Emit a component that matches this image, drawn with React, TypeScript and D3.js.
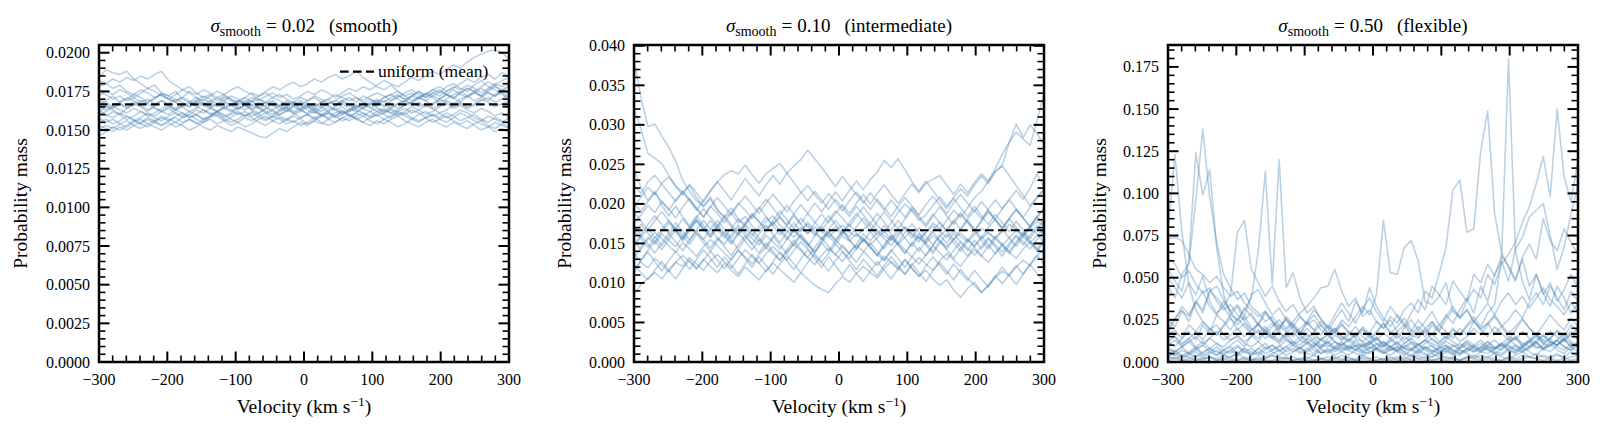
import React from "react";
import * as d3 from "d3";

// Posterior draws of the velocity distribution (probability mass per bin),
// stored in units of 1e-3. Each row is one draw over the 60 velocity bins.
const MASS_UNIT = 1e-3;
const N_BINS = 60;
const V_MIN = -300;
const V_MAX = 300;
const velocityBins = d3.range(N_BINS).map((i) => V_MIN + (i * (V_MAX - V_MIN)) / (N_BINS - 1));

const uniformMean = 1 / 60;

const smoothDraws: number[][] = [
  [18.4,18.9,18.7,18.6,18.8,18.3,18.0,17.7,17.9,17.4,17.2,17.5,17.0,16.8,17.1,16.7,16.9,16.5,16.8,16.6,16.3,16.7,16.9,16.4,16.6,16.8,16.5,16.2,16.6,16.9,16.7,16.4,16.8,17.0,16.6,16.9,17.1,16.8,17.2,17.0,16.7,17.1,17.3,17.0,16.8,17.2,17.5,17.1,17.4,17.6,17.3,17.0,17.4,17.7,17.5,17.2,17.6,17.9,17.4,17.1],
  [17.8,18.0,18.3,18.1,18.4,18.2,18.5,18.3,18.6,18.8,18.2,17.9,17.6,17.8,17.4,17.1,17.3,16.9,17.2,17.0,16.7,16.9,16.6,16.8,16.5,16.3,16.6,16.9,16.7,16.4,16.6,16.3,16.5,16.8,16.6,16.9,16.7,16.4,16.7,17.0,16.8,16.5,16.9,17.2,17.0,16.7,17.1,16.9,16.6,17.0,17.3,17.1,16.8,17.2,17.5,17.2,16.9,17.3,17.6,17.4],
  [16.6,16.9,17.2,16.8,17.0,17.3,17.1,16.8,17.0,17.4,17.2,16.9,17.1,17.5,17.3,17.6,17.4,17.1,17.3,17.0,16.8,17.1,17.4,17.2,17.5,17.8,17.6,17.9,18.1,17.8,18.0,18.3,18.1,18.4,18.6,18.3,18.5,18.8,18.4,18.1,17.8,17.6,17.9,17.5,17.2,17.4,17.1,17.3,17.6,17.4,17.8,18.0,17.7,17.5,17.9,18.2,17.8,17.6,17.3,17.0],
  [16.2,16.5,16.3,16.0,16.4,16.7,16.5,16.2,16.6,16.9,16.7,17.0,16.8,16.5,16.9,17.2,17.0,16.7,17.1,16.9,16.6,16.8,17.1,16.9,17.2,17.4,17.1,17.3,17.0,17.2,17.5,17.3,17.6,17.4,17.1,17.4,17.7,17.5,17.8,17.6,17.9,18.2,18.0,17.8,18.1,18.4,18.2,18.5,18.8,18.6,18.9,19.2,19.0,19.4,19.7,19.9,20.1,20.2,20.0,19.6],
  [14.6,14.9,15.2,15.0,15.3,15.6,15.4,15.7,15.5,15.8,15.6,15.9,16.1,15.8,16.0,15.7,15.9,16.2,16.0,15.7,15.5,15.8,15.6,15.9,16.1,15.8,16.0,16.3,16.1,15.8,16.0,15.7,15.9,16.2,15.9,15.6,15.8,16.1,15.9,16.2,16.4,16.1,16.3,16.0,16.2,16.5,16.3,16.0,16.2,16.5,16.7,16.4,16.6,16.3,16.1,16.4,16.2,15.9,16.1,15.8],
  [15.8,15.5,15.7,15.4,15.6,15.3,15.5,15.8,15.6,15.3,15.5,15.2,15.4,15.7,15.5,15.2,15.0,15.3,15.1,14.9,15.2,15.0,14.8,14.6,14.5,14.8,15.1,14.9,15.2,15.5,15.3,15.6,15.4,15.7,15.5,15.8,16.0,15.7,15.9,15.6,15.4,15.7,15.5,15.2,15.4,15.7,15.5,15.8,16.0,15.7,15.5,15.8,16.1,15.9,15.6,15.4,15.2,15.5,15.3,15.1],
  [16.3,16.0,15.8,16.1,15.9,15.6,15.8,16.1,15.9,16.2,16.4,16.1,15.9,16.2,16.0,15.7,15.9,16.2,16.5,16.3,16.0,16.2,15.9,16.1,16.4,16.2,15.9,15.7,16.0,16.2,16.5,16.3,16.0,15.8,16.1,16.3,16.0,15.8,15.5,15.8,16.0,15.7,15.9,16.2,16.4,16.1,16.3,16.6,16.4,16.1,16.3,16.6,16.8,16.5,16.7,17.0,16.8,16.5,16.7,16.9],
  [18.2,18.0,17.7,17.9,17.5,17.3,17.6,17.4,17.1,17.3,17.0,16.8,17.1,16.9,16.6,16.8,16.5,16.7,16.4,16.2,16.5,16.3,16.6,16.4,16.1,16.3,16.0,16.2,16.5,16.3,16.1,16.4,16.2,16.5,16.3,16.0,16.2,16.5,16.7,16.4,16.6,16.9,16.7,16.4,16.6,16.8,17.1,16.9,17.2,17.0,17.3,17.1,17.4,17.7,17.5,17.8,18.1,17.9,18.2,18.4],
  [17.0,16.8,16.5,16.7,16.4,16.6,16.9,16.7,16.4,16.2,16.5,16.3,16.6,16.8,16.5,16.3,16.0,16.2,16.5,16.7,16.4,16.6,16.3,16.5,16.2,16.0,16.3,16.5,16.2,16.4,16.7,16.5,16.8,16.6,16.3,16.5,16.2,16.4,16.7,16.5,16.2,16.4,16.1,16.3,16.6,16.8,16.5,16.7,16.4,16.6,16.9,16.7,17.0,17.2,16.9,17.1,17.4,17.2,17.5,17.3],
  [15.5,15.7,15.4,15.6,15.9,15.7,15.4,15.2,15.5,15.3,15.6,15.8,15.5,15.7,15.4,15.6,15.9,16.1,15.8,16.0,16.2,15.9,16.1,15.8,15.6,15.9,15.7,15.4,15.6,15.3,15.5,15.8,16.0,15.7,15.9,16.2,16.0,15.7,15.5,15.3,15.6,15.4,15.7,15.9,15.6,15.4,15.2,15.5,15.7,15.4,15.2,15.5,15.3,15.1,15.4,15.6,15.3,15.1,15.4,15.2],
  [17.2,17.5,17.3,17.6,17.4,17.1,17.4,17.7,17.5,17.2,17.0,17.3,17.6,17.4,17.1,16.9,17.2,17.5,17.3,17.6,17.8,17.5,17.3,17.0,16.8,17.1,16.9,16.6,16.8,17.1,16.9,17.2,17.0,16.7,16.9,17.2,17.4,17.1,16.9,17.2,17.4,17.2,16.9,17.1,17.4,17.6,17.3,17.1,17.4,17.2,17.5,17.8,17.6,17.9,17.7,17.4,17.7,18.0,17.8,18.1],
  [15.0,15.3,15.1,15.4,15.2,15.5,15.7,15.4,15.6,15.9,15.7,15.5,15.8,16.0,16.3,16.1,16.4,16.2,15.9,16.1,16.4,16.6,16.3,16.1,16.4,16.7,16.5,16.8,16.6,16.3,16.5,16.2,16.0,16.3,16.5,16.8,16.6,16.3,16.1,15.9,16.2,16.0,15.8,16.1,15.9,15.7,16.0,16.2,15.9,16.1,15.8,16.0,16.3,16.1,15.8,15.6,15.9,15.7,15.5,15.8],
  [16.9,16.6,16.4,16.7,16.5,16.8,16.6,16.3,16.5,16.2,16.0,16.3,16.1,15.8,16.0,16.3,16.1,15.9,15.6,15.8,16.1,15.9,16.2,16.0,15.7,15.9,16.2,16.4,16.1,16.3,16.0,16.2,15.9,16.1,15.8,16.0,16.3,16.6,16.4,16.7,16.5,16.2,16.5,16.7,16.9,16.6,16.8,16.5,16.7,17.0,16.8,16.5,16.7,16.4,16.6,16.9,17.1,16.8,17.0,17.3],
  [16.0,16.2,16.5,16.3,16.1,16.4,16.2,15.9,16.1,16.4,16.6,16.3,16.5,16.2,16.4,16.7,16.5,16.2,16.4,16.6,16.9,16.7,16.4,16.6,16.8,16.6,16.3,16.5,16.8,16.6,16.3,16.1,16.4,16.7,16.9,16.7,16.4,16.2,16.5,16.8,17.0,16.8,17.1,17.3,17.0,17.2,17.5,17.3,17.6,17.8,17.5,17.7,18.0,18.3,18.1,18.4,18.6,18.3,18.7,18.5],
  [15.3,15.1,14.9,15.2,15.0,15.3,15.1,15.4,15.2,15.0,15.3,15.5,15.3,15.0,15.2,15.5,15.7,15.4,15.6,15.3,15.5,15.2,15.4,15.7,15.9,15.6,15.4,15.7,15.5,15.8,16.0,15.8,15.5,15.3,15.5,15.8,15.6,15.9,16.1,15.8,16.0,16.3,16.1,15.9,16.1,15.8,15.6,15.8,15.5,15.7,15.9,15.6,15.4,15.6,15.3,15.0,15.2,14.9,15.1,14.8],
  [16.5,16.3,16.6,16.8,17.1,16.9,16.6,16.8,17.1,17.3,17.0,16.8,16.5,16.7,16.9,16.6,16.4,16.7,16.9,17.2,17.0,16.7,16.9,17.2,17.4,17.1,17.3,17.0,16.8,16.6,16.9,17.1,16.8,17.0,17.3,17.1,16.9,17.1,16.8,16.6,16.8,17.1,17.3,17.5,17.2,16.9,17.1,17.4,17.2,17.5,17.3,17.6,17.3,17.1,17.4,17.2,17.5,17.8,17.6,17.9],
  [16.1,15.9,16.2,16.0,15.7,15.9,16.2,16.0,15.8,15.6,15.9,16.1,15.8,16.0,15.7,15.5,15.8,16.0,15.7,15.5,15.7,16.0,15.8,15.5,15.3,15.6,15.8,15.6,15.9,15.7,15.4,15.6,15.9,16.1,15.9,16.2,15.9,16.1,16.4,16.2,15.9,16.1,16.4,16.2,16.0,16.3,16.1,15.8,16.0,15.8,16.1,15.9,15.6,15.8,16.0,15.7,15.5,15.8,15.6,15.4],
  [17.5,17.3,17.0,17.2,16.9,17.1,16.8,17.0,16.7,16.9,16.6,16.4,16.7,16.5,16.8,17.0,16.8,17.1,16.9,16.6,16.9,17.1,16.8,17.0,16.7,16.9,16.6,16.4,16.6,16.8,16.5,16.7,16.5,16.2,16.4,16.1,16.3,16.6,16.4,16.7,16.9,16.6,16.4,16.7,16.9,17.2,17.0,17.3,17.1,16.8,17.0,17.3,17.5,17.2,17.4,17.7,17.4,17.2,17.5,17.8],
];

const intermediateDraws: number[][] = [
  [38.2,33.5,29.8,30.1,28.6,27.2,25.4,23.0,21.6,20.4,19.8,20.6,19.2,18.4,19.5,18.1,17.4,18.6,17.8,16.9,17.5,18.3,17.2,16.4,17.0,16.2,17.1,16.5,15.8,16.6,17.3,16.4,15.9,16.8,17.5,16.7,16.0,15.4,16.3,17.1,16.2,15.6,16.4,17.2,16.5,15.8,16.6,15.9,15.2,16.1,16.9,16.3,15.7,16.5,17.4,16.8,16.2,17.0,17.8,17.2],
  [32.2,29.5,26.4,25.8,25.1,23.6,22.2,21.5,22.3,20.8,19.6,20.9,19.3,18.2,18.9,17.6,18.4,17.2,16.5,17.8,18.5,17.3,16.6,15.8,16.7,17.4,16.3,15.6,16.4,17.1,15.9,15.3,16.2,15.5,14.8,15.7,16.5,15.6,14.9,15.8,16.6,15.7,15.0,16.0,15.3,14.6,15.5,16.3,15.4,14.7,15.6,16.4,15.5,14.8,15.7,16.6,15.8,15.1,16.0,16.8],
  [13.2,14.5,15.8,14.9,16.2,15.4,14.6,15.9,17.1,16.3,15.5,16.8,15.7,14.9,16.1,17.3,16.4,15.6,14.8,16.0,15.2,14.3,15.5,16.7,15.8,14.9,13.8,15.1,16.3,15.4,14.5,13.7,14.9,16.2,15.3,16.5,15.6,14.7,15.9,17.0,16.1,15.2,16.4,17.6,16.8,17.9,19.2,18.3,19.5,20.8,21.6,22.9,24.5,26.3,27.8,29.1,28.2,27.4,30.6,33.9],
  [17.5,18.6,19.8,18.9,20.3,19.4,18.2,19.6,20.7,19.5,18.4,19.7,18.8,17.6,18.9,20.1,19.2,18.1,19.4,20.6,19.5,18.3,17.4,18.7,19.9,18.8,17.7,16.6,17.9,19.1,18.2,17.1,18.4,19.6,18.5,17.3,16.4,17.6,18.9,20.0,19.1,17.9,18.6,19.8,20.9,19.7,20.8,21.9,21.0,22.4,23.5,22.6,24.1,24.9,27.8,30.1,28.4,30.0,28.9,27.5],
  [8.5,9.8,10.6,11.3,10.5,11.7,12.6,12.1,13.2,12.4,11.6,12.8,13.6,12.7,11.9,13.1,14.2,13.3,12.5,13.7,14.6,13.8,12.9,14.1,15.2,14.3,13.4,12.6,13.8,14.9,14.0,13.1,14.3,15.4,14.5,13.6,12.8,14.0,15.1,14.2,13.3,12.4,13.6,14.7,13.8,12.9,14.1,15.2,14.4,13.5,14.6,15.7,14.8,13.9,15.0,16.1,15.2,14.3,15.5,16.6],
  [13.8,12.6,11.9,13.1,12.3,11.4,12.6,13.5,12.7,11.8,13.0,12.1,11.3,12.5,11.6,10.8,12.0,11.2,10.4,11.6,12.5,11.7,10.9,10.1,11.3,10.5,9.7,9.2,8.8,9.9,10.8,10.1,11.2,12.1,11.3,10.6,11.8,12.7,11.9,11.1,12.3,13.2,12.4,11.6,12.8,13.7,12.9,12.1,13.3,14.2,13.4,12.6,13.8,14.7,13.9,13.1,14.3,15.2,14.4,13.6],
  [15.3,14.2,15.5,16.4,15.6,14.7,13.9,15.1,14.3,13.4,14.6,15.5,14.7,13.8,12.9,14.1,13.3,12.4,13.6,14.5,13.7,12.8,14.0,14.9,14.1,13.2,12.3,13.5,14.4,13.6,12.7,13.9,14.8,14.0,13.1,12.2,13.4,12.6,11.7,12.9,11.8,10.9,11.6,10.5,9.7,10.4,9.1,8.2,9.3,10.1,8.8,9.6,10.7,11.5,10.9,12.0,12.9,12.2,13.4,14.3],
  [19.6,20.8,22.1,21.2,22.6,23.4,22.3,21.1,22.5,21.4,20.2,21.6,22.8,21.7,20.5,21.9,23.2,22.1,21.0,22.4,23.6,22.5,23.9,24.8,25.6,26.8,25.7,24.6,23.4,22.2,23.5,22.3,21.2,20.1,21.4,20.3,19.2,20.5,19.4,18.3,19.6,18.5,17.4,18.7,17.6,16.5,17.8,18.9,17.8,16.7,17.9,19.1,18.0,16.9,18.1,19.3,18.2,17.1,18.3,19.4],
  [14.6,15.8,16.9,15.7,16.8,17.9,16.7,15.6,16.9,18.0,16.9,15.8,17.0,18.2,17.1,16.0,17.3,18.5,19.6,18.4,17.3,18.6,19.8,18.7,17.5,18.8,20.1,19.0,20.3,21.5,20.4,21.7,22.9,21.8,23.1,24.0,25.5,24.6,25.7,24.3,22.8,21.6,22.9,21.7,20.5,19.4,20.7,19.5,18.4,19.7,18.5,17.4,18.7,17.6,16.5,17.8,16.7,15.6,16.9,17.9],
  [16.2,17.4,16.3,15.2,16.5,17.6,16.5,15.3,16.6,17.8,16.7,17.9,16.8,15.7,16.9,18.1,17.0,15.9,17.1,18.3,17.2,16.1,17.3,18.5,17.4,16.3,17.6,18.7,17.6,18.8,19.9,18.8,20.1,21.2,20.0,21.3,22.4,21.2,20.1,21.3,22.5,21.4,22.6,23.1,23.6,22.4,21.2,22.5,21.4,22.7,23.8,22.9,24.1,24.8,23.6,22.3,21.1,19.8,20.9,21.8],
  [22.4,21.3,22.8,23.6,22.5,21.4,20.3,21.5,20.4,19.2,20.5,21.7,22.8,23.7,24.2,23.8,24.9,23.7,22.6,23.8,24.5,25.1,23.9,22.7,21.5,20.4,21.6,20.5,19.3,20.6,19.5,18.4,19.7,18.6,17.5,18.8,17.7,16.6,17.9,16.8,15.7,17.0,15.9,14.8,16.1,15.0,16.3,15.2,14.1,15.4,14.3,15.6,14.5,13.4,14.7,15.9,14.8,16.0,17.2,16.1],
  [16.8,15.6,14.5,15.8,14.7,15.9,17.1,16.0,14.9,16.2,15.1,14.0,15.3,16.5,15.4,14.3,15.6,16.8,15.7,14.6,15.9,14.8,13.7,15.0,16.2,15.1,14.0,15.3,16.5,15.4,16.6,15.5,14.4,15.7,14.6,13.5,14.8,16.0,14.9,13.8,15.1,14.0,15.3,16.5,15.4,14.3,15.6,14.5,13.4,14.7,15.9,14.8,13.7,15.0,14.0,15.2,16.4,15.3,14.2,15.5],
  [18.9,17.8,16.7,17.9,19.0,17.9,16.8,18.1,17.0,18.3,19.4,18.3,17.2,18.5,17.4,16.3,17.6,18.8,17.7,16.6,17.9,19.1,18.0,16.9,18.2,17.1,16.0,17.3,18.5,17.4,16.3,17.6,18.8,17.7,16.6,17.8,19.0,17.9,16.8,18.1,19.3,18.2,17.1,18.4,19.6,18.5,17.4,18.7,17.6,16.5,17.8,19.0,17.9,16.8,18.1,17.0,15.9,17.2,18.4,17.3],
  [11.6,12.8,13.9,12.7,11.5,12.8,14.0,12.9,11.7,13.0,14.2,13.1,12.0,13.3,12.2,11.1,12.4,13.6,12.5,11.4,12.7,13.9,12.8,11.7,13.0,14.2,13.1,12.0,13.3,12.2,11.0,12.3,11.2,10.2,11.5,12.7,11.6,10.5,11.8,13.0,11.9,10.8,12.1,13.3,12.2,11.1,12.4,11.3,10.3,11.6,10.5,9.5,10.8,12.0,10.9,9.8,11.1,12.3,11.2,10.1],
  [24.3,22.1,20.4,21.6,19.8,18.5,19.7,18.4,17.2,18.5,17.3,16.1,17.4,16.2,15.1,16.4,15.3,14.2,15.5,14.4,15.7,16.9,15.8,14.7,16.0,14.9,13.8,15.1,14.0,15.3,16.5,15.4,14.3,15.6,14.5,13.4,14.7,15.9,14.8,13.7,15.0,16.2,15.1,14.0,15.3,14.2,13.1,14.4,15.6,14.5,13.4,14.7,15.9,14.8,13.7,15.0,16.2,15.1,14.0,15.2],
  [11.2,12.9,14.1,15.3,14.2,15.5,16.7,15.6,16.8,18.0,16.9,15.8,17.1,16.0,14.9,16.2,17.4,16.3,15.2,16.5,17.7,16.6,15.5,16.8,15.7,14.6,15.9,17.1,16.0,14.9,16.2,17.4,16.3,15.2,16.5,15.4,14.3,15.6,16.8,15.7,14.6,15.9,14.8,13.7,15.0,16.2,15.1,14.0,15.3,16.5,15.4,14.3,15.6,16.8,15.7,14.6,15.9,17.1,16.2,15.1],
  [20.1,19.0,20.3,21.4,20.3,19.2,20.5,21.6,20.5,19.4,18.3,19.6,20.8,19.7,18.6,19.9,21.0,19.9,18.8,20.1,21.2,20.1,19.0,20.3,21.4,22.3,21.2,20.1,21.3,20.2,19.1,20.4,21.5,20.4,19.3,20.6,19.5,18.4,19.7,20.8,19.7,18.6,19.9,21.0,19.9,18.8,20.1,21.2,20.1,19.0,20.3,19.2,18.1,19.4,20.5,19.4,18.3,19.6,20.7,21.8],
  [12.4,11.3,10.4,11.6,12.7,11.6,10.5,11.8,12.9,11.8,12.9,14.0,12.9,11.8,13.1,14.2,13.1,12.0,13.3,12.2,11.1,12.4,13.5,12.4,11.3,12.6,13.7,12.6,11.5,12.8,13.9,12.8,11.7,13.0,12.0,10.9,12.2,13.3,12.2,11.1,12.4,11.3,10.2,11.5,12.6,11.5,10.4,11.7,10.6,9.7,8.8,9.8,10.9,9.9,11.1,12.2,11.1,12.4,13.5,12.4],
  [17.2,16.1,17.4,18.5,17.4,16.3,17.6,16.5,15.4,16.7,17.9,16.8,17.9,16.8,15.7,17.0,16.0,14.9,16.2,17.3,16.2,15.1,16.4,17.6,16.5,17.7,16.6,15.5,16.8,17.9,16.8,15.8,17.1,18.2,17.1,16.0,17.3,16.2,15.1,16.4,17.5,16.4,15.3,16.6,17.7,16.6,15.5,16.8,17.9,16.8,15.7,17.0,18.1,17.0,18.2,19.3,18.2,17.1,18.4,19.5],
  [14.9,16.0,14.9,13.8,15.1,16.3,15.2,14.1,15.4,16.6,15.5,14.4,15.7,14.6,13.5,14.8,16.0,14.9,13.8,15.1,14.0,12.9,14.2,15.4,14.3,13.2,14.5,15.7,14.6,13.5,14.8,13.7,12.6,13.9,15.1,14.0,12.9,14.2,13.1,12.0,13.3,14.5,13.4,14.7,15.9,16.8,17.9,16.8,18.1,19.2,18.1,19.4,20.5,19.4,20.6,21.7,20.6,22.0,23.8,22.1],
];

const flexibleDraws: number[][] = [
  [78,123,77,46,31,24,19,22,16,13,15,11,9,12,8,10,7,9,6,8,11,7,5,8,6,9,7,5,4,6,8,5,7,9,6,4,7,5,3,6,8,5,4,7,9,6,5,8,11,7,6,9,12,8,10,14,9,7,11,9],
  [55,48,42,60,124,99,114,68,40,28,33,24,19,22,17,14,18,13,11,15,12,9,13,10,8,11,9,7,10,12,8,6,9,11,8,7,10,13,9,7,6,9,11,8,10,13,9,7,10,12,15,11,9,13,16,12,10,14,18,13],
  [45,38,52,58,96,138,98,71,52,44,37,41,33,29,24,27,22,19,23,18,15,17,13,16,12,10,13,9,11,8,10,12,9,7,10,8,6,9,7,5,8,10,7,6,9,11,8,6,5,8,10,7,9,12,8,6,10,13,9,11],
  [12,15,10,14,18,13,20,16,22,28,25,31,38,66,113,46,120,44,53,38,29,33,25,21,18,23,17,14,12,16,11,9,13,10,8,11,7,9,6,8,10,7,5,8,6,9,7,5,8,10,7,6,9,12,8,10,13,9,7,11],
  [20,26,31,24,36,29,42,38,33,40,77,84,55,47,39,45,36,30,34,27,22,25,19,16,20,15,13,17,12,10,14,11,9,12,8,7,10,8,6,9,7,5,8,10,7,6,9,8,11,9,7,10,13,9,8,12,10,14,11,9],
  [8,6,9,12,8,10,14,11,9,13,16,12,15,19,14,17,21,18,15,20,24,19,16,22,18,25,21,27,33,28,40,84,53,52,68,72,60,36,34,39,47,30,26,31,24,20,23,17,21,15,13,18,14,11,16,12,10,14,9,12],
  [5,7,4,6,9,5,8,6,4,7,10,6,5,8,11,7,9,13,10,8,12,9,14,11,16,13,18,15,21,17,24,20,27,23,31,35,29,42,38,52,68,102,108,77,79,125,149,88,65,56,48,61,45,52,40,47,36,43,52,44],
  [3,5,2,4,6,3,5,7,4,3,5,8,4,6,3,5,7,4,6,9,5,4,7,5,8,6,4,7,10,6,8,12,9,7,11,14,10,13,17,12,15,20,16,22,27,21,29,34,61,180,66,48,37,52,41,33,45,38,29,35],
  [4,6,3,5,8,4,6,9,5,7,4,6,8,5,9,6,4,7,10,6,8,5,9,12,7,10,8,13,9,11,15,10,14,18,13,16,21,17,24,19,28,23,31,38,29,45,36,52,60,48,67,74,86,90,94,75,55,68,88,105],
  [6,4,7,5,3,6,8,4,7,5,9,6,4,8,5,7,10,6,8,5,7,11,8,6,9,12,8,10,7,11,14,9,12,16,11,14,19,15,22,18,25,31,27,36,43,38,52,46,58,64,71,83,92,106,122,98,150,110,95,120],
  [62,58,50,54,46,41,44,36,31,34,28,25,29,22,19,23,17,15,18,13,11,14,10,9,12,8,7,10,6,5,8,6,4,7,5,3,6,4,5,3,6,4,7,5,3,6,8,5,4,7,5,9,6,4,8,11,7,5,9,6],
  [73,74,72,64,55,52,47,51,44,39,42,35,31,27,30,24,21,25,19,16,20,15,13,17,12,10,14,11,9,12,8,10,7,9,6,8,11,7,5,8,10,6,9,12,8,7,10,13,9,11,15,10,13,17,12,14,19,15,22,18],
  [18,25,33,28,36,31,42,45,37,30,34,27,40,43,35,28,32,25,21,27,23,19,24,20,17,22,18,15,19,16,13,17,14,11,15,12,10,13,11,9,12,10,8,11,9,7,10,8,11,14,10,8,12,15,11,9,13,17,12,10],
  [10,13,9,12,15,11,14,18,13,16,20,15,19,23,17,21,25,20,24,29,33,38,44,45,55,42,33,38,27,31,24,20,25,18,22,16,14,19,13,11,15,12,9,13,10,8,12,9,7,11,14,9,12,16,11,14,18,13,16,20],
  [2,3,1,2,4,2,3,1,2,3,5,2,1,3,2,4,1,2,3,1,2,4,2,1,3,2,1,2,4,2,3,1,2,3,1,2,4,2,3,5,2,3,1,2,4,2,3,5,3,2,4,6,3,2,4,3,5,2,3,4],
  [8,6,9,5,7,10,6,4,7,9,5,8,6,4,7,10,6,9,12,8,6,9,5,7,4,6,9,7,5,8,11,7,9,6,4,7,5,8,10,6,9,7,5,8,6,9,12,8,10,7,9,6,8,11,7,10,13,9,7,10],
  [15,19,14,22,18,24,20,16,21,26,19,23,17,14,19,15,12,17,21,16,13,18,22,17,20,15,12,16,20,14,18,23,17,21,26,19,15,20,24,18,14,19,16,21,25,19,23,28,22,17,21,26,20,16,13,18,15,12,17,14],
  [1,2,1,1,2,1,3,1,2,1,1,2,1,2,1,1,2,3,1,2,1,1,2,1,2,1,3,1,2,1,1,2,1,2,3,1,2,1,1,2,1,2,1,3,2,1,2,1,1,2,1,2,3,2,1,2,1,2,1,2],
  [20,15,11,14,9,12,8,11,7,10,13,9,16,12,19,14,11,15,10,13,17,12,9,14,18,13,16,21,15,12,17,23,18,14,20,25,19,24,30,22,27,33,26,31,24,29,35,28,36,41,34,39,32,38,44,37,33,28,35,30],
  [50,44,38,47,40,51,36,29,33,26,22,27,20,17,21,16,13,17,12,10,14,11,8,12,9,7,10,8,6,9,7,5,8,6,9,12,8,11,14,10,13,17,12,15,20,16,22,27,21,25,31,26,35,41,34,45,38,31,42,36],
  [3,2,4,3,1,2,3,2,4,2,1,3,2,1,2,4,3,2,1,2,3,1,2,3,2,4,2,1,3,2,1,2,3,1,2,4,2,3,1,2,3,2,1,3,2,4,3,2,1,3,2,4,3,5,3,2,4,3,6,4],
  [12,9,14,18,13,22,17,28,24,19,26,21,16,23,30,25,19,27,22,17,24,31,26,20,28,35,29,23,31,38,30,24,33,27,21,29,37,31,45,40,34,48,42,36,52,47,58,51,63,57,49,62,70,61,85,72,66,79,71,64],
  [25,21,30,27,35,42,33,28,36,30,24,32,27,22,29,24,19,26,21,17,23,28,22,18,25,31,24,36,29,44,33,26,21,28,23,18,25,20,16,22,18,14,20,16,24,19,15,21,17,13,19,25,20,16,22,28,23,19,26,21],
];

const sigmaValues = ["0.02", "0.10", "0.50"];
const regimeNames = ["smooth", "intermediate", "flexible"];
const yUpperLimits = [0.0205, 0.0401, 0.188];
const yMajorSteps = [0.0025, 0.005, 0.025];
const yTickDecimals = [4, 3, 3];
const xMajorTicks = [-300, -200, -100, 0, 100, 200, 300];
const xMinorStep = 20;
const legendLabel = "uniform (mean)";

const panelDraws = [smoothDraws, intermediateDraws, flexibleDraws];

// layout
const W = 1608;
const H = 438;
const PANEL_LEFTS = [99, 634, 1168];
const PANEL_W = 410;
const TOP = 45;
const BOTTOM = 362;
const YLABEL_X = [27, 571, 1106];
const FONT = "Liberation Serif, Times New Roman, serif";
const LINE_COLOR = "#4682b4";

const fmtTick = (v: number, d: number) => d3.format(`.${d}f`)(v);
const fmtX = (v: number) => (v < 0 ? "\u2212" + Math.abs(v) : String(v));

function Panel({ idx }: { idx: number }) {
  const left = PANEL_LEFTS[idx];
  const right = left + PANEL_W;
  const x = d3.scaleLinear().domain([V_MIN, V_MAX]).range([left, right]);
  const y = d3.scaleLinear().domain([0, yUpperLimits[idx]]).range([BOTTOM, TOP]);
  const line = d3
    .line<number>()
    .x((_, i) => x(velocityBins[i]))
    .y((d) => y(d * MASS_UNIT));

  const step = yMajorSteps[idx];
  const nMajor = Math.floor(yUpperLimits[idx] / step + 1e-6);
  const yMajor = d3.range(nMajor + 1).map((i) => i * step);
  const minorStep = step / 5;
  const nMinor = Math.floor(yUpperLimits[idx] / minorStep + 1e-6);
  const yMinor = d3.range(nMinor + 1).map((i) => i * minorStep).filter((_, i) => i % 5 !== 0);
  const xMinor = d3.range(V_MIN, V_MAX + 1, xMinorStep).filter((v) => v % 100 !== 0);

  const MAJ = 10.5;
  const MIN = 6.5;
  const clipId = `clip-${idx}`;
  const cx = (left + right) / 2;

  return (
    <g>
      <defs>
        <clipPath id={clipId}>
          <rect x={left} y={TOP} width={PANEL_W} height={BOTTOM - TOP} />
        </clipPath>
      </defs>
      <g clipPath={`url(#${clipId})`}>
        {panelDraws[idx].map((draw, k) => (
          <path
            key={k}
            d={line(draw) || ""}
            fill="none"
            stroke={LINE_COLOR}
            strokeOpacity={0.36}
            strokeWidth={1.6}
            strokeLinejoin="round"
          />
        ))}
        <line
          x1={x(V_MIN)}
          x2={x(V_MAX)}
          y1={y(uniformMean)}
          y2={y(uniformMean)}
          stroke="#000"
          strokeWidth={2.2}
          strokeDasharray="8.6 4.4"
        />
      </g>

      {/* ticks, pointing inward on all four sides */}
      <g stroke="#000">
        {xMajorTicks.map((v) => (
          <g key={`xM${v}`} strokeWidth={2}>
            <line x1={x(v)} x2={x(v)} y1={BOTTOM} y2={BOTTOM - MAJ} />
            <line x1={x(v)} x2={x(v)} y1={TOP} y2={TOP + MAJ} />
          </g>
        ))}
        {xMinor.map((v) => (
          <g key={`xm${v}`} strokeWidth={1.6}>
            <line x1={x(v)} x2={x(v)} y1={BOTTOM} y2={BOTTOM - MIN} />
            <line x1={x(v)} x2={x(v)} y1={TOP} y2={TOP + MIN} />
          </g>
        ))}
        {yMajor.map((v) => (
          <g key={`yM${v}`} strokeWidth={2}>
            <line x1={left} x2={left + MAJ} y1={y(v)} y2={y(v)} />
            <line x1={right} x2={right - MAJ} y1={y(v)} y2={y(v)} />
          </g>
        ))}
        {yMinor.map((v, i) => (
          <g key={`ym${i}`} strokeWidth={1.6}>
            <line x1={left} x2={left + MIN} y1={y(v)} y2={y(v)} />
            <line x1={right} x2={right - MIN} y1={y(v)} y2={y(v)} />
          </g>
        ))}
      </g>

      <rect
        x={left}
        y={TOP}
        width={PANEL_W}
        height={BOTTOM - TOP}
        fill="none"
        stroke="#000"
        strokeWidth={2.5}
      />

      {/* tick labels */}
      <g style={{ fontFamily: FONT }} fontSize={16} fill="#000">
        {xMajorTicks.map((v) => (
          <text key={`xl${v}`} x={x(v)} y={385} textAnchor="middle">
            {fmtX(v)}
          </text>
        ))}
        {yMajor.map((v) => (
          <text key={`yl${v}`} x={left - 9} y={y(v) + 5.5} textAnchor="end">
            {fmtTick(v, yTickDecimals[idx])}
          </text>
        ))}
      </g>

      {/* axis labels */}
      <text x={cx} y={413} textAnchor="middle" style={{ fontFamily: FONT }} fontSize={19.5}>
        Velocity (km s
        <tspan fontSize={13.5} dy={-7.5}>
          {"\u22121"}
        </tspan>
        <tspan dy={7.5}>)</tspan>
      </text>
      <text
        transform={`translate(${YLABEL_X[idx]},${(TOP + BOTTOM) / 2}) rotate(-90)`}
        textAnchor="middle"
        style={{ fontFamily: FONT }}
        fontSize={19.5}
      >
        Probability mass
      </text>

      {/* title */}
      <text x={cx} y={31.5} textAnchor="middle" style={{ fontFamily: FONT }} fontSize={19}>
        <tspan fontStyle="italic">σ</tspan>
        <tspan fontSize={14} dy={4.5}>smooth</tspan>
        <tspan dy={-4.5} dx={5}>=</tspan>
        <tspan dx={5}>{sigmaValues[idx]}</tspan>
        <tspan dx={14}>({regimeNames[idx]})</tspan>
      </text>

      {idx === 0 && (
        <g>
          <line
            x1={340}
            x2={374}
            y1={71.7}
            y2={71.7}
            stroke="#000"
            strokeWidth={2.2}
            strokeDasharray="8.6 4.4"
          />
          <text x={378} y={77} style={{ fontFamily: FONT }} fontSize={17.5}>
            {legendLabel}
          </text>
        </g>
      )}
    </g>
  );
}

export default function App() {
  return (
    <svg
      width={W}
      height={H}
      viewBox={`0 0 ${W} ${H}`}
      style={{ position: "absolute", left: 0, top: 0, background: "#fff" }}
    >
      <rect x={0} y={0} width={W} height={H} fill="#fff" />
      {[0, 1, 2].map((i) => (
        <Panel key={i} idx={i} />
      ))}
    </svg>
  );
}
